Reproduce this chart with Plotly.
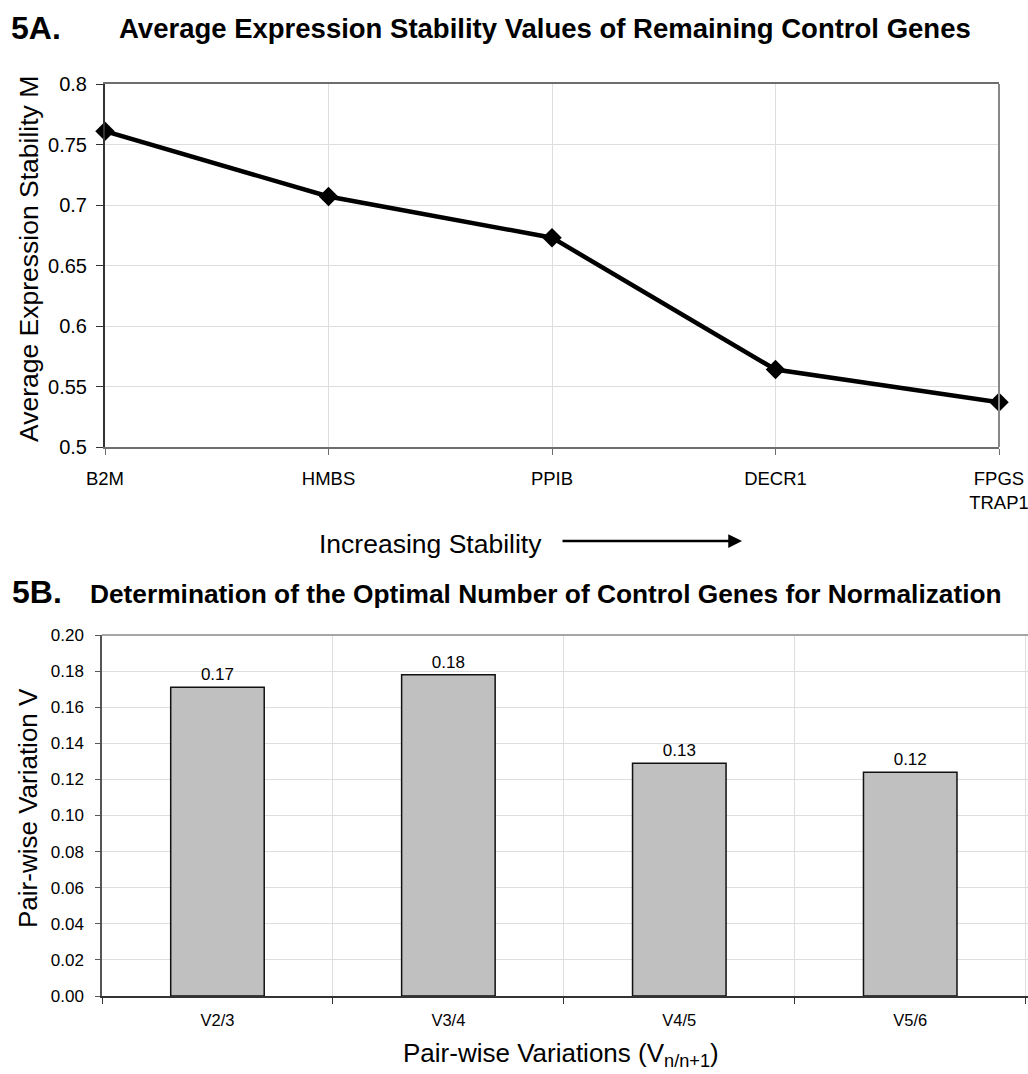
import plotly.graph_objects as go

# ---- data ----
genes = ["B2M", "HMBS", "PPIB", "DECR1", "FPGS<br>TRAP1"]
stability_m = [0.761, 0.707, 0.673, 0.564, 0.537]
stability_ticks = [0.5, 0.55, 0.6, 0.65, 0.7, 0.75, 0.8]
stability_ticktext = ["0.5", "0.55", "0.6", "0.65", "0.7", "0.75", "0.8"]

pairs = ["V2/3", "V3/4", "V4/5", "V5/6"]
pairwise_v = [0.171, 0.178, 0.129, 0.124]
pairwise_labels = ["0.17", "0.18", "0.13", "0.12"]
pairwise_ticks = [0.0, 0.02, 0.04, 0.06, 0.08, 0.10, 0.12, 0.14, 0.16, 0.18, 0.20]

W, H = 1028, 1074
FONT = "Liberation Sans, Arial, Helvetica, sans-serif"


def px_x(p):
    return p / W


def px_y(p):
    return 1 - p / H


fig = go.Figure()

fig.add_trace(go.Scatter(
    x=list(range(len(genes))), y=stability_m, mode="lines+markers",
    line=dict(color="black", width=4.5),
    marker=dict(symbol="diamond", size=15, color="black"),
    cliponaxis=False, xaxis="x", yaxis="y", showlegend=False, hoverinfo="skip",
))

fig.add_trace(go.Bar(
    x=pairs, y=pairwise_v, text=pairwise_labels, textposition="outside",
    textfont=dict(family=FONT, size=17, color="black"),
    marker=dict(color="#c0c0c0", line=dict(color="#111111", width=1.5)),
    width=0.405, cliponaxis=False, xaxis="x2", yaxis="y2", showlegend=False,
))

grid = "#dedede"
fig.update_layout(
    width=W, height=H, margin=dict(l=0, r=0, t=0, b=0, autoexpand=False),
    paper_bgcolor="white", plot_bgcolor="white",
    font=dict(family=FONT, color="black"),
    xaxis=dict(
        domain=[px_x(105), px_x(999)], anchor="y", automargin=False,
        tickmode="array", tickvals=list(range(len(genes))), ticktext=genes,
        range=[0, len(genes) - 1],
        showgrid=True, gridcolor=grid, gridwidth=1,
        showline=True, linecolor="#6e6e6e", linewidth=2, mirror=True,
        ticks="outside", ticklen=6, tickcolor="#6e6e6e",
        ticklabelstandoff=8, ticklabeloverflow="allow",
        tickfont=dict(family=FONT, size=18.5, color="black"),
        zeroline=False,
    ),
    yaxis=dict(
        domain=[px_y(447), px_y(84)], anchor="x", automargin=False,
        range=[0.5, 0.8], tickmode="array", tickvals=stability_ticks,
        ticktext=stability_ticktext,
        showgrid=True, gridcolor=grid, gridwidth=1,
        showline=True, linecolor="#333333", linewidth=2,
        ticks="outside", ticklen=7, tickcolor="#333333", ticklabelstandoff=5,
        tickfont=dict(family=FONT, size=20, color="black"),
        zeroline=False,
    ),
    xaxis2=dict(
        domain=[px_x(102), 1.0], anchor="y2", automargin=False,
        type="category", tickson="boundaries", range=[-0.5, 3.51],
        showgrid=True, gridcolor=grid, gridwidth=1,
        showline=True, linecolor="#333333", linewidth=2, mirror=False,
        ticks="outside", ticklen=6, tickcolor="#333333", ticklabelstandoff=8,
        tickfont=dict(family=FONT, size=16.5, color="black"),
    ),
    yaxis2=dict(
        domain=[px_y(996), px_y(635)], anchor="x2", automargin=False,
        range=[0, 0.2], tickmode="array", tickvals=pairwise_ticks, tickformat=".2f",
        showgrid=True, gridcolor=grid, gridwidth=1,
        showline=True, linecolor="#555555", linewidth=1.5,
        ticks="outside", ticklen=5, tickcolor="#555555", ticklabelstandoff=8,
        tickfont=dict(family=FONT, size=17, color="black"),
        zeroline=False,
    ),
)

# borders (top/right)
fig.add_shape(type="line", xref="x domain", yref="y domain", x0=1, x1=1, y0=0, y1=1,
              line=dict(color="#888888", width=2))
fig.add_shape(type="line", xref="x2 domain", yref="y2 domain", x0=0, x1=1, y0=1, y1=1,
              line=dict(color="#888888", width=1.5))

# panel titles
fig.add_annotation(text="<b>5A.</b>", x=px_x(9), y=px_y(27.5), xref="paper", yref="paper",
                   xanchor="left", yanchor="middle", showarrow=False,
                   font=dict(family=FONT, size=32, color="black"))
fig.add_annotation(text="<b>Average Expression Stability Values of Remaining Control Genes</b>",
                   x=px_x(117), y=px_y(28.5), xref="paper", yref="paper",
                   xanchor="left", yanchor="middle", showarrow=False,
                   font=dict(family=FONT, size=27.5, color="black"))
fig.add_annotation(text="<b>5B.</b>", x=px_x(10), y=px_y(592), xref="paper", yref="paper",
                   xanchor="left", yanchor="middle", showarrow=False,
                   font=dict(family=FONT, size=32, color="black"))
fig.add_annotation(text="<b>Determination of the Optimal Number of Control Genes for Normalization</b>",
                   x=px_x(88), y=px_y(593.5), xref="paper", yref="paper",
                   xanchor="left", yanchor="middle", showarrow=False,
                   font=dict(family=FONT, size=26.3, color="black"))

# axis titles
fig.add_annotation(text="Average Expression Stability M", x=px_x(29), y=px_y(259),
                   xref="paper", yref="paper", textangle=-90,
                   xanchor="center", yanchor="middle", showarrow=False,
                   font=dict(family=FONT, size=26.5, color="black"))
fig.add_annotation(text="Pair-wise Variation V", x=px_x(28), y=px_y(808),
                   xref="paper", yref="paper", textangle=-90,
                   xanchor="center", yanchor="middle", showarrow=False,
                   font=dict(family=FONT, size=26, color="black"))
fig.add_annotation(text="Pair-wise Variations (V<sub>n/n+1</sub>)", x=px_x(561), y=px_y(1054),
                   xref="paper", yref="paper",
                   xanchor="center", yanchor="middle", showarrow=False,
                   font=dict(family=FONT, size=26, color="black"))

# "Increasing Stability" with arrow
fig.add_annotation(text="Increasing Stability", x=px_x(430), y=px_y(544), xref="paper", yref="paper",
                   xanchor="center", yanchor="middle", showarrow=False,
                   font=dict(family=FONT, size=26.5, color="black"))
fig.add_annotation(x=px_x(742), y=px_y(541), ax=-181, ay=0,
                   xref="paper", yref="paper", axref="pixel", ayref="pixel",
                   text="", showarrow=True, arrowhead=2, arrowsize=1.1, arrowwidth=2.5,
                   arrowcolor="black")

# remove default page margin so the figure fills the window exactly
fig.write_html("out.html", config={"displayModeBar": False},
               post_script="document.body.style.margin='0';")
